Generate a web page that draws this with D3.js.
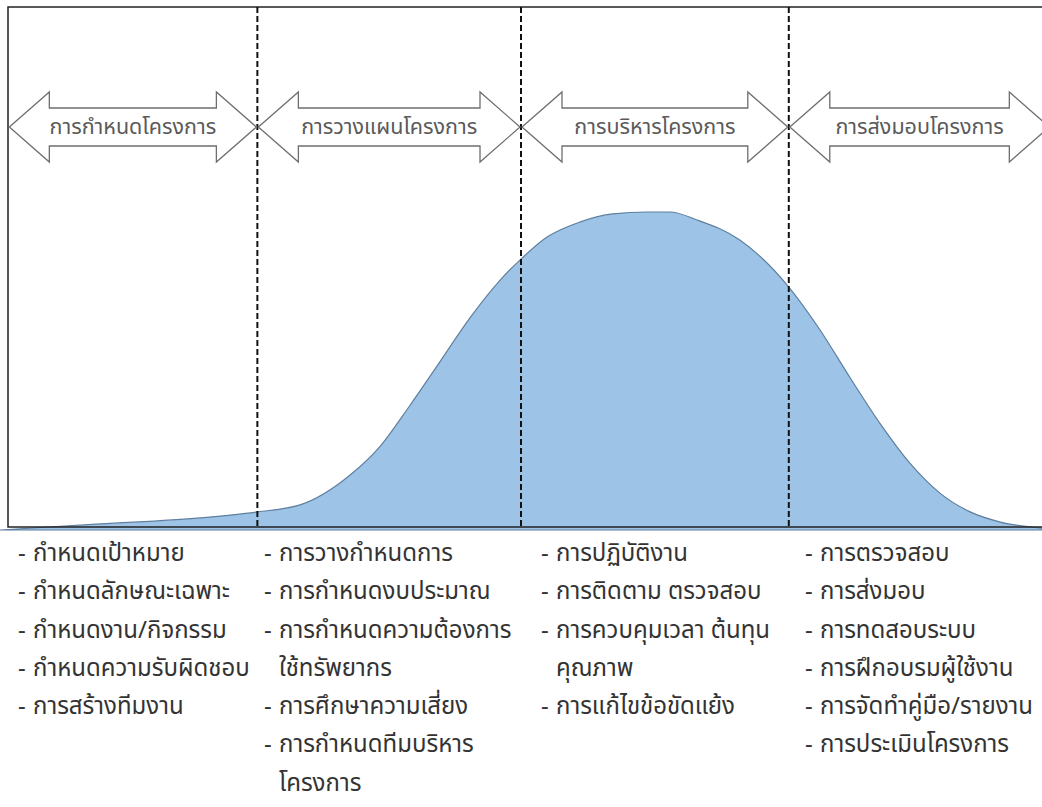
<!DOCTYPE html>
<html>
<head>
<meta charset="utf-8">
<script src="https://cdn.jsdelivr.net/npm/d3@7"></script>
<style>
  html, body { margin: 0; padding: 0; background: #fff; }
  svg { display: block; }
  text { font-family: "Noto Sans Thai", "Leelawadee UI", Tahoma, "Noto Sans", sans-serif; }
</style>
</head>
<body>
<svg id="chart" width="1042" height="807"></svg>
<script>
// Project life-cycle: effort level over time (0–100 timeline)
const timeline = [0, 9.6, 19.2, 24.7, 28.8, 33.6, 36.5, 39.3, 42.2, 45.1, 48.0, 50.1, 52.5, 55.7, 58.8, 62.1, 64.3, 66.9, 71.0, 75.7, 78.7, 81.6, 84.5, 87.3, 90.2, 93.1, 96.0, 100];
const effort   = [0, 1.9, 3.8, 5.7, 7.9, 17.3, 26.4, 39.0, 52.8, 66.7, 78.6, 85.5, 92.1, 96.9, 99.4, 100, 100, 97.5, 91.2, 76.4, 62.9, 47.8, 33.3, 21.1, 11.6, 5.7, 2.5, 0.6];

// Phase boundaries on the timeline
const phaseStart = [0.8, 24.7, 50.0, 75.7];
const phaseEnd   = [24.7, 50.0, 75.7, 100.8];
const phaseNames = ["การกำหนดโครงการ", "การวางแผนโครงการ", "การบริหารโครงการ", "การส่งมอบโครงการ"];
const boundaries = [24.7, 50.0, 75.7];

// Activities of each phase (an array inside an item = wrapped continuation line)
const activities1 = ["กำหนดเป้าหมาย", "กำหนดลักษณะเฉพาะ", "กำหนดงาน/กิจกรรม", "กำหนดความรับผิดชอบ", "การสร้างทีมงาน"];
const activities2 = ["การวางกำหนดการ", "การกำหนดงบประมาณ", ["การกำหนดความต้องการ", "ใช้ทรัพยากร"], "การศึกษาความเสี่ยง", ["การกำหนดทีมบริหาร", "โครงการ"]];
const activities3 = ["การปฏิบัติงาน", "การติดตาม  ตรวจสอบ", ["การควบคุมเวลา  ต้นทุน", "คุณภาพ"], "การแก้ไขข้อขัดแย้ง"];
const activities4 = ["การตรวจสอบ", "การส่งมอบ", "การทดสอบระบบ", "การฝึกอบรมผู้ใช้งาน", "การจัดทำคู่มือ/รายงาน", "การประเมินโครงการ"];
const activityCols = [activities1, activities2, activities3, activities4];
const listStart = [18, 264, 541, 805];

const svg = d3.select("#chart");
const W = 1042;

const x = d3.scaleLinear().domain([0, 100]).range([0, W]);
const y = d3.scaleLinear().domain([0, 100]).range([530, 212]);

const frameTop = 7, frameLeft = 8, frameBottom = 527;

// Effort curve
const area = d3.area()
  .x((d, i) => x(timeline[i]))
  .y0(y(0))
  .y1(d => y(d))
  .curve(d3.curveMonotoneX);

svg.append("path")
  .datum(effort)
  .attr("d", area)
  .attr("fill", "#9dc3e6")
  .attr("stroke", "#5f7f9f")
  .attr("stroke-width", 1.2);

// Frame
svg.append("path")
  .attr("d", `M${W},${frameTop}H${frameLeft}V${frameBottom}H${W}`)
  .attr("fill", "none")
  .attr("stroke", "#222")
  .attr("stroke-width", 1.5);

// Phase dividers
svg.selectAll("line.divider")
  .data(boundaries)
  .join("line")
  .attr("class", "divider")
  .attr("x1", d => x(d)).attr("x2", d => x(d))
  .attr("y1", frameTop).attr("y2", frameBottom)
  .attr("stroke", "#111")
  .attr("stroke-width", 2)
  .attr("stroke-dasharray", "6,3");

// Double-headed phase arrows
const cy = 127, headH = 35, shaftH = 19, headL = 40;
function arrowPath(a, b) {
  return `M${a},${cy} L${a + headL},${cy - headH} L${a + headL},${cy - shaftH} L${b - headL},${cy - shaftH} L${b - headL},${cy - headH} L${b},${cy} L${b - headL},${cy + headH} L${b - headL},${cy + shaftH} L${a + headL},${cy + shaftH} L${a + headL},${cy + headH} Z`;
}
const arrows = svg.append("g");
phaseNames.forEach((name, i) => {
  const a = x(phaseStart[i]) + 1, b = x(phaseEnd[i]) - 1;
  arrows.append("path")
    .attr("d", arrowPath(a, b))
    .attr("fill", "#fff")
    .attr("stroke", "#6e6e6e")
    .attr("stroke-width", 1.3);
  arrows.append("text")
    .attr("x", (a + b) / 2)
    .attr("y", cy)
    .attr("dy", "0.33em")
    .attr("text-anchor", "middle")
    .attr("font-size", 21.5)
    .attr("fill", "#5a5a5a")
    .text(name);
});

// Activity lists under each phase
const lineH = 38.3, firstY = 553;
activityCols.forEach((items, c) => {
  const g = svg.append("g");
  let row = 0;
  items.forEach(item => {
    const lines = Array.isArray(item) ? item : [item];
    lines.forEach((t, k) => {
      const ty = firstY + row * lineH;
      if (k === 0) {
        g.append("text")
          .attr("x", listStart[c]).attr("y", ty).attr("dy", "0.33em")
          .attr("font-size", 24).attr("fill", "#333")
          .text("-");
      }
      g.append("text")
        .attr("x", listStart[c] + 15).attr("y", ty).attr("dy", "0.33em")
        .attr("font-size", 24).attr("fill", "#333")
        .text(t);
      row++;
    });
  });
});
</script>
</body>
</html>
